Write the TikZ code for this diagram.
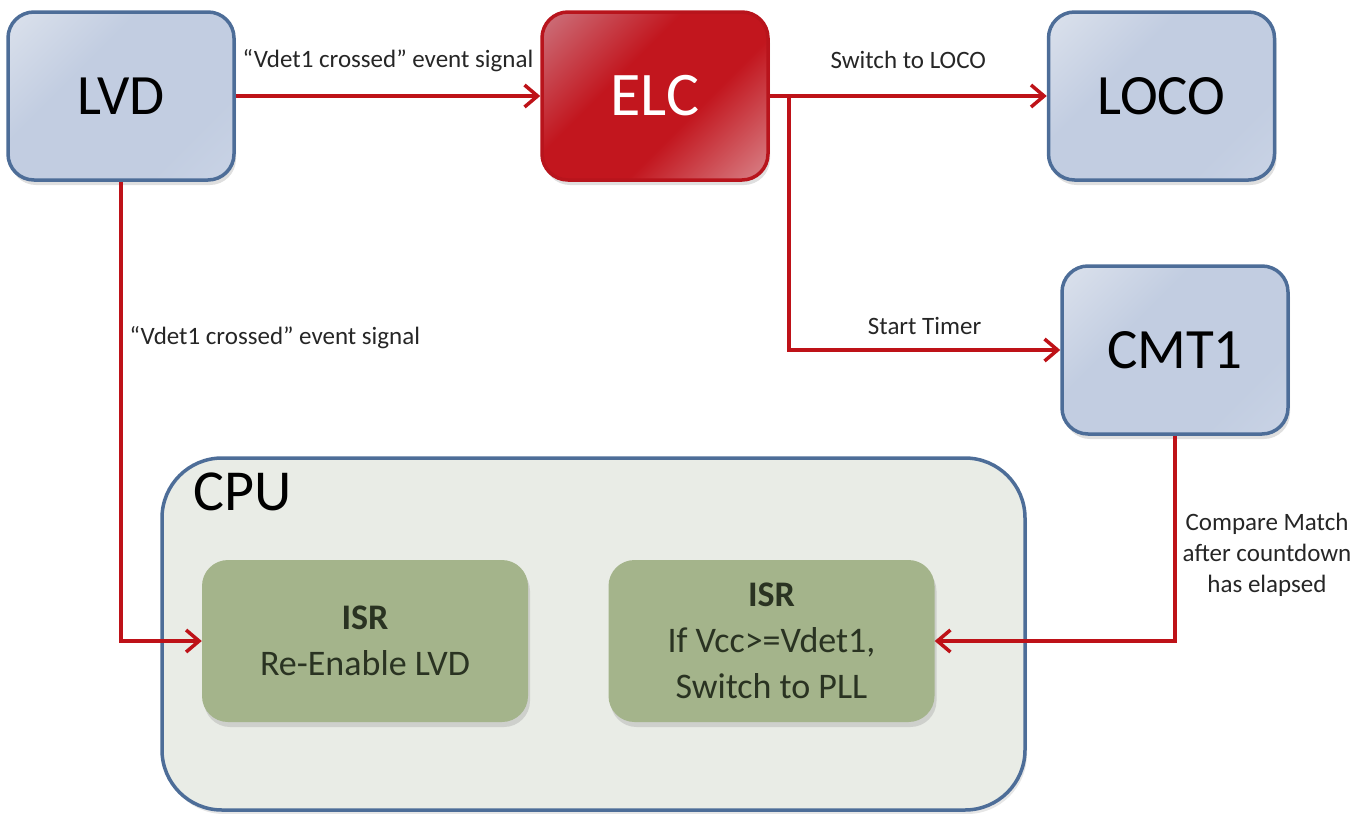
\documentclass[tikz,border=0pt]{standalone}
\usepackage{fontspec}
\setmainfont{Carlito}
\usetikzlibrary{arrows.meta,shadows,shadings,calc}
\definecolor{arr}{HTML}{BE1218}
\definecolor{bbord}{HTML}{4D6D98}
\definecolor{bluel}{HTML}{EBEEF3}
\definecolor{bluem}{HTML}{C2CDE1}
\definecolor{bluer}{HTML}{D0D9E9}
\definecolor{redl}{HTML}{D2AAB6}
\definecolor{redm}{HTML}{C2161E}
\definecolor{redr}{HTML}{E6C3C8}
\definecolor{redb}{HTML}{B8141C}
\definecolor{cpufill}{HTML}{E9ECE6}
\definecolor{isrfill}{HTML}{A4B48B}
\definecolor{isrtext}{HTML}{2A3322}
\pgfdeclarehorizontalshading{blueshade}{100bp}{color(0bp)=(bluel); color(38bp)=(bluem); color(70bp)=(bluem); color(100bp)=(bluer)}
\pgfdeclarehorizontalshading{redshade}{100bp}{color(0bp)=(redl); color(40bp)=(redm); color(60bp)=(redm); color(100bp)=(redr)}
\tikzset{
  shad/.style={drop shadow={shadow xshift=2pt, shadow yshift=-5pt, opacity=0.25}},
  blk/.style={rectangle, rounded corners=26pt, minimum width=226pt, minimum height=168pt, line width=3.5pt, font=\fontsize{57}{60}\selectfont, shad},
  bluebox/.style={blk, draw=bbord, shading=blueshade, shading angle=-45},
  redbox/.style={blk, draw=redb, shading=redshade, shading angle=-45, text=white, font=\fontsize{62}{66}\selectfont},
  isr/.style={rectangle, rounded corners=26pt, minimum width=326pt, minimum height=162pt, fill=isrfill, text=isrtext, align=center, font=\fontsize{36}{46}\selectfont, shad},
  cpu/.style={rectangle, rounded corners=60pt, draw=bbord, line width=3.5pt, fill=cpufill, minimum width=863pt, minimum height=352pt, drop shadow={shadow xshift=2pt, shadow yshift=-4pt, opacity=0.2}},
  lbl/.style={font=\fontsize{25}{31}\selectfont, text=black!85},
  conn/.style={draw=arr, line width=3.5pt, -{Straight Barb[length=13pt,width=22pt]}}
}
\begin{document}
\begin{tikzpicture}[x=1pt,y=-1pt]
\useasboundingbox (0,0) rectangle (1369,814);
\node[cpu] (cpu) at (593.5,634) {};
\node[font=\fontsize{58}{60}\selectfont, anchor=base west] (cputxt) at (190,510) {CPU};
\node[isr] (isr1) at (365,641) {\textbf{ISR}\\Re-Enable LVD};
\node[isr] (isr2) at (771.5,641) {\textbf{ISR}\\If Vcc>=Vdet1,\\Switch to PLL};
\node[bluebox] (lvd) at (121,96) {LVD};
\node[redbox] (elc) at (655,96) {ELC};
\node[bluebox] (loco) at (1161.5,96) {LOCO};
\node[bluebox] (cmt) at (1175,350) {CMT1};
\coordinate (br) at (789,96);
\draw[conn] (lvd.east) -- node[lbl, above=19pt]{“Vdet1 crossed” event signal} (elc.west);
\draw[conn] (elc.east) -- node[lbl, above=22pt]{Switch to LOCO} (loco.west);
\draw[conn] (br) |- node[lbl, pos=0.75, above=10pt]{Start Timer} (cmt.west);
\draw[conn] (lvd.south) |- (isr1.west);
\node[lbl, anchor=west] (l4) at (126,338) {“Vdet1 crossed” event signal};
\draw[conn] (cmt.south) |- (isr2.east);
\node[lbl, align=center] (l5) at (1267,555) {Compare Match\\after countdown\\has elapsed};
\end{tikzpicture}
\end{document}
